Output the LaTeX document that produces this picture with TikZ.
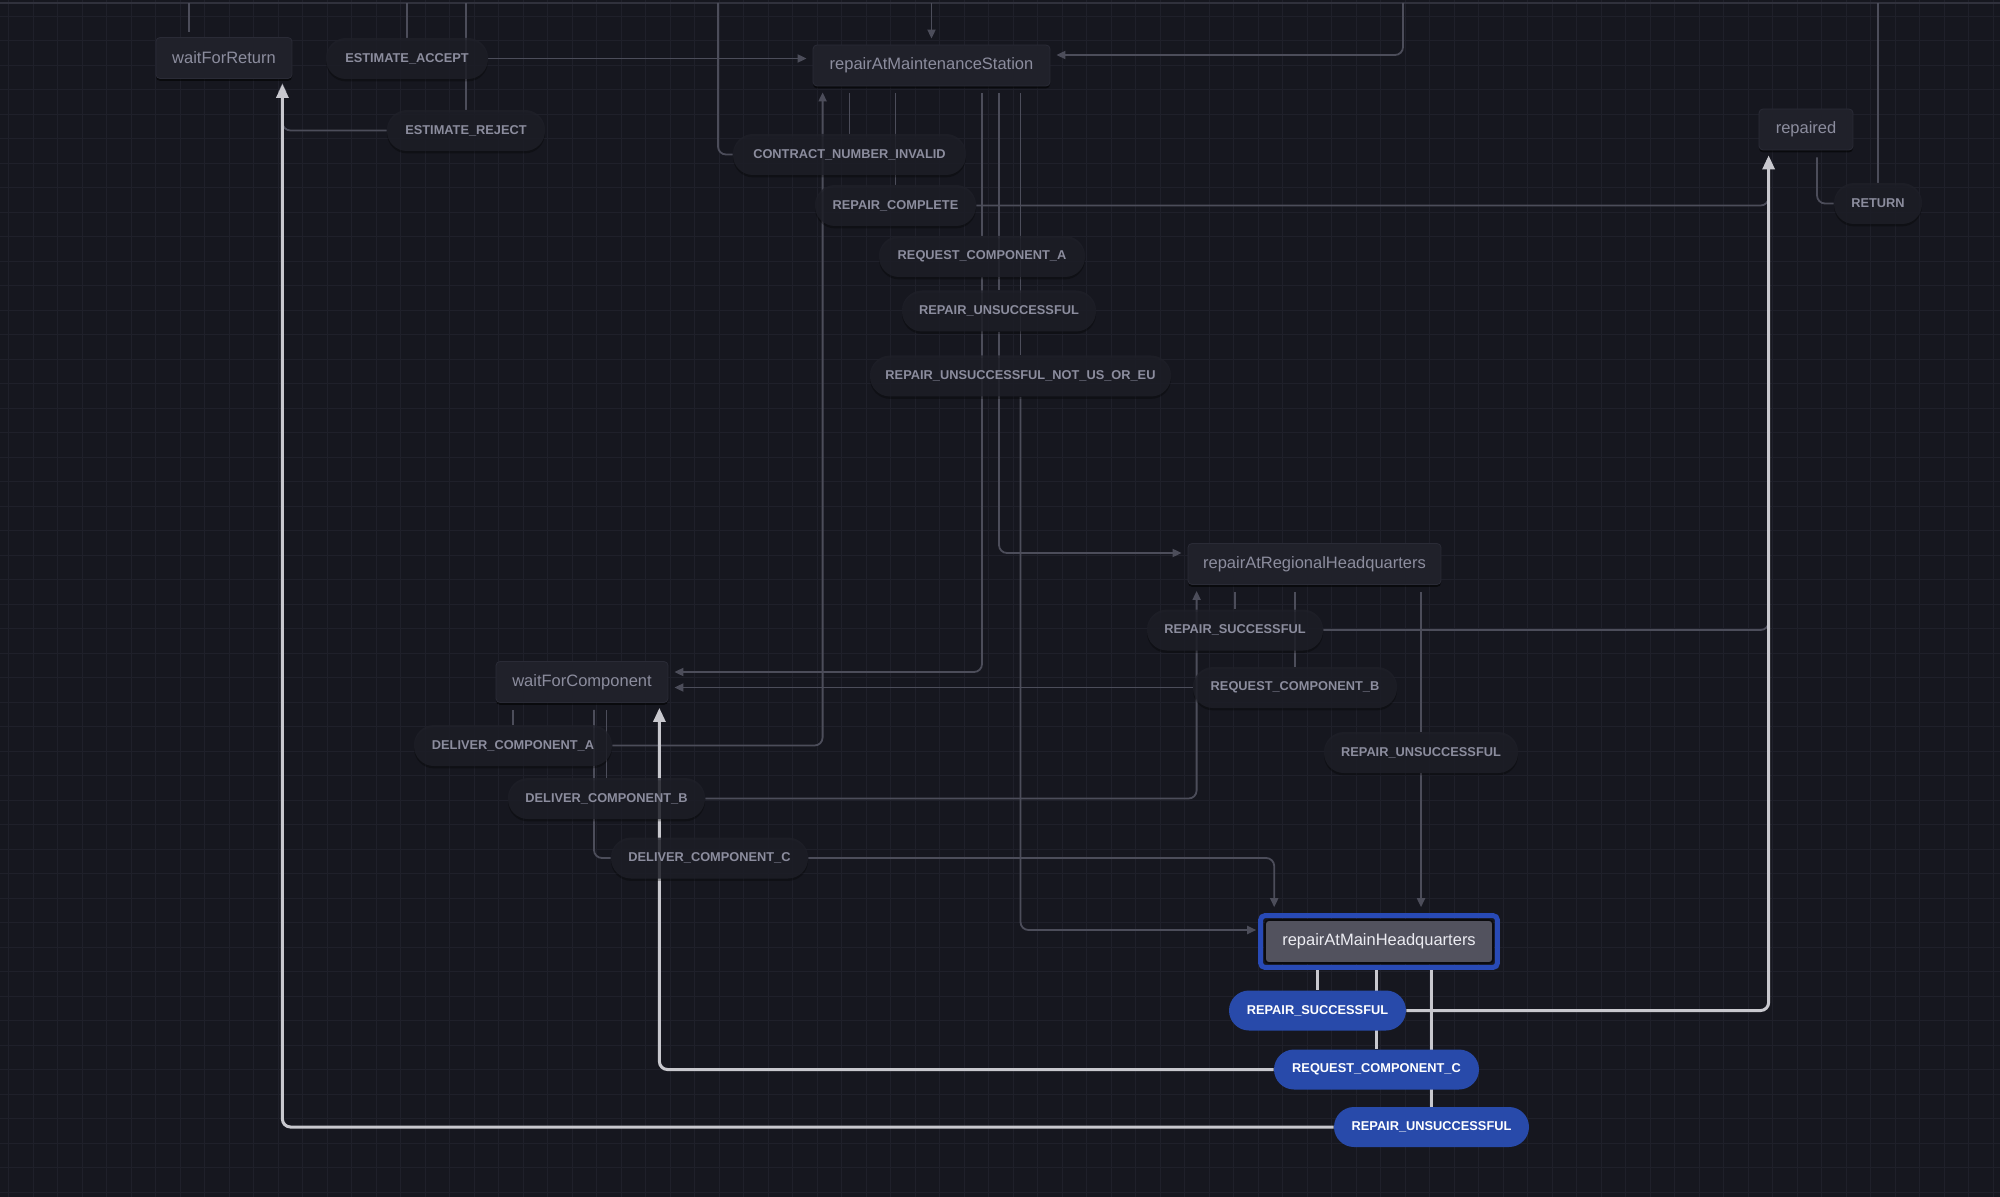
\documentclass[tikz,border=0pt]{standalone}
\usepackage{fontspec}
\setmainfont{Liberation Sans}
\usetikzlibrary{arrows.meta,calc,shadows}
\pgfdeclarelayer{gridlayer}
\pgfdeclarelayer{edgelayer}
\pgfsetlayers{gridlayer,edgelayer,main}
\definecolor{bgc}{RGB}{22,23,31}
\definecolor{gridc}{RGB}{31,32,42}
\definecolor{topc}{RGB}{48,49,60}
\definecolor{statec}{RGB}{32,33,42}
\definecolor{stateb}{RGB}{42,43,54}
\definecolor{txtc}{RGB}{140,141,158}
\definecolor{lblc}{RGB}{31,32,41}
\definecolor{edgec}{RGB}{76,77,90}
\definecolor{hotc}{RGB}{200,200,206}
\definecolor{bluec}{RGB}{40,74,170}
\definecolor{hqb}{RGB}{40,74,182}
\definecolor{hqfill}{RGB}{82,82,94}
\definecolor{hqtxt}{RGB}{236,236,242}
\tikzset{
  state/.style={rectangle, rounded corners=2pt, fill=statec, draw=stateb, line width=0.4pt,
    text=txtc, font=\fontsize{8.25}{10}\selectfont, minimum height=20.5pt, inner sep=0pt,
    drop shadow={shadow xshift=0pt, shadow yshift=-1.2pt, opacity=0.55, fill=black}},
  lbl/.style={rectangle, rounded corners=10pt, minimum height=20.5pt, inner sep=0pt,
    fill=lblc, fill opacity=0.78, text opacity=1, text=txtc,
    font=\bfseries\fontsize{6.4}{7}\selectfont,
    drop shadow={shadow xshift=0pt, shadow yshift=-1.2pt, opacity=0.3, fill=black}},
  hlbl/.style={rectangle, rounded corners=10pt, minimum height=20pt, inner sep=0pt,
    fill=bluec, text=white, font=\bfseries\fontsize{6.4}{7}\selectfont},
  edge/.style={draw=edgec, line width=0.9pt, rounded corners=4pt},
  arr/.style={-{Triangle[length=4.5pt,width=4pt]}, shorten >=3pt},
  hot/.style={draw=hotc, line width=1.5pt, rounded corners=4pt},
  harr/.style={-{Triangle[length=7pt,width=6pt]}, shorten >=2.5pt},
  src/.style={shorten <=3.5pt}
}
\begin{document}
\begin{tikzpicture}[x=0.5pt,y=-0.5pt]
\useasboundingbox (0,0) rectangle (2000,1197);
\begin{pgfonlayer}{gridlayer}
  \fill[bgc] (0,0) rectangle (2000,1197);
  \foreach \i in {0,...,81} {\draw[gridc, line width=0.5pt] ({8.7+24.5*\i},0) -- ({8.7+24.5*\i},1197);}
  \foreach \j in {0,...,48} {\draw[gridc, line width=0.5pt] (0,{16.2+24.5*\j}) -- (2000,{16.2+24.5*\j});}
  \draw[topc, line width=0.8pt] (0,3) -- (2000,3);
\end{pgfonlayer}
\coordinate (top) at (0,3);

% states
\node[state, minimum width=68pt] (wfr) at (224,58) {waitForReturn};
\node[state, minimum width=118.5pt] (rams) at (931.5,65.5) {repairAtMaintenanceStation};
\node[state, minimum width=47pt] (repd) at (1806,129.5) {repaired};
\node[state, minimum width=126.5pt] (rrhq) at (1314.5,564) {repairAtRegionalHeadquarters};
\node[state, minimum width=86pt] (wfc) at (582,682) {waitForComponent};
\node[rectangle, rounded corners=2pt, fill=hqfill, draw=black!50!bgc, line width=0.8pt,
  text=hqtxt, font=\fontsize{8.25}{10}\selectfont, minimum height=21.5pt, minimum width=114pt,
  inner sep=0pt] (rmhq) at (1379,941.5) {repairAtMainHeadquarters};
\draw[hqb, line width=2.5pt, rounded corners=2pt]
  ($(rmhq.south west)+(-3.5,3.5)$) rectangle ($(rmhq.north east)+(3.5,-3.5)$);

% labels
\node[lbl, minimum width=81pt] (lEA) at (407,58.5) {ESTIMATE\_ACCEPT};
\node[lbl, minimum width=79pt] (lER) at (466,130.5) {ESTIMATE\_REJECT};
\node[lbl, minimum width=116.5pt] (lCNI) at (849.5,154.5) {CONTRACT\_NUMBER\_INVALID};
\node[lbl, minimum width=80.5pt] (lRC) at (895.5,205.5) {REPAIR\_COMPLETE};
\node[lbl, minimum width=103pt] (lRCA) at (982,256.5) {REQUEST\_COMPONENT\_A};
\node[lbl, minimum width=97pt] (lRU1) at (999,311) {REPAIR\_UNSUCCESSFUL};
\node[lbl, minimum width=150.5pt] (lRUN) at (1020.5,376) {REPAIR\_UNSUCCESSFUL\_NOT\_US\_OR\_EU};
\node[lbl, minimum width=44pt] (lRET) at (1878,203.5) {RETURN};
\node[lbl, minimum width=88pt] (lRS2) at (1235,630) {REPAIR\_SUCCESSFUL};
\node[lbl, minimum width=102pt] (lRCB) at (1295,687.5) {REQUEST\_COMPONENT\_B};
\node[lbl, minimum width=97pt] (lRU2) at (1421,752.5) {REPAIR\_UNSUCCESSFUL};
\node[lbl, minimum width=99pt] (lDA) at (513,745.5) {DELIVER\_COMPONENT\_A};
\node[lbl, minimum width=98.5pt] (lDB) at (606.5,798.5) {DELIVER\_COMPONENT\_B};
\node[lbl, minimum width=98.5pt] (lDC) at (709.5,858) {DELIVER\_COMPONENT\_C};
\node[hlbl, minimum width=88.5pt] (lRS3) at (1317.5,1010.5) {REPAIR\_SUCCESSFUL};
\node[hlbl, minimum width=102.5pt] (lRCC) at (1376.5,1069.5) {REQUEST\_COMPONENT\_C};
\node[hlbl, minimum width=97.5pt] (lRU3) at (1431.5,1127) {REPAIR\_UNSUCCESSFUL};

% helper coordinates
\coordinate (wfrIn) at ($(wfr.south east)+(-10,0)$);
\coordinate (repIn) at ($(repd.south west)+(10,0)$);
\coordinate (wfcIn) at ($(wfc.south east)+(-9,0)$);
\coordinate (tWFR) at (189,3);
\coordinate (tCNI) at (718,3);
\coordinate (tR) at (1403,3);

\begin{pgfonlayer}{edgelayer}
  % edges entering from above the frame
  \draw[edge] (tWFR) -- ($(wfr.north -| tWFR)+(0,-5)$);
  \draw[edge] (lEA.north |- top) -- (lEA.north);
  \draw[edge] (lER.north |- top) -- (lER.north);
  \draw[edge,arr] (rams.north |- top) -- (rams.north);
  \draw[edge,arr] (tR) |- ($(rams.east)+(0,-10.5)$);
  \draw[edge] (lRET.north) -- (lRET.north |- top);
  % ESTIMATE
  \draw[edge,arr] (lEA.east) -- (lEA.east -| rams.west);
  \draw[edge,arr,shorten >=2pt] (lER.west) -| (wfrIn);
  % from repairAtMaintenanceStation
  \draw[edge,src] (rams.south -| lCNI.north) -- (lCNI.north);
  \draw[edge] (lCNI.west) -| (tCNI);
  \draw[edge,src] (rams.south -| lRC.north) -- (lRC.north);
  \draw[edge,arr] (lRC.east) -| (repIn);
  \draw[edge,src] (rams.south -| lRCA.north) -- (lRCA.north);
  \draw[edge,arr] (lRCA.south) |- ($(wfc.east)+(0,-10)$);
  \draw[edge,src] (rams.south -| lRU1.north) -- (lRU1.north);
  \draw[edge,arr] (lRU1.south) |- ($(rrhq.west)+(0,-11)$);
  \draw[edge,src] (rams.south -| lRUN.north) -- (lRUN.north);
  \draw[edge,arr,shorten >=4pt] (lRUN.south) |- ($(rmhq.west)+(0,-11.5)$);
  % from waitForComponent
  \draw[edge,src] (wfc.south -| lDA.north) -- (lDA.north);
  \draw[edge,src] (wfc.south -| lDB.north) -- (lDB.north);
  \draw[edge,src] ($(wfc.south)+(12,0)$) |- (lDC.west);
  \draw[edge,arr] (lDA.east) -| ($(rams.south west)+(10,0)$);
  \draw[edge,arr] (lDB.east) -| ($(rrhq.south west)+(9,0)$);
  \draw[edge,arr,shorten >=3pt] (lDC.east) -| ($(rmhq.north west)+(10,-6)$);
  % from repairAtRegionalHeadquarters
  \draw[edge,src] (rrhq.south -| lRS2.north) -- (lRS2.north);
  \draw[edge,src] (rrhq.south -| lRCB.north) -- (lRCB.north);
  \draw[edge,src] (rrhq.south -| lRU2.north) -- (lRU2.north);
  \draw[edge,arr] (lRS2.east) -| (repIn);
  \draw[edge,arr] (lRCB.west) -- (lRCB.west -| wfc.east);
  \draw[edge,arr,shorten >=3pt] (lRU2.south) -- ($(lRU2.south |- rmhq.north)+(0,-6)$);
  % repaired
  \draw[edge,src] ($(repd.south)+(11,0)$) |- (lRET.west);
  % from repairAtMainHeadquarters (active)
  \draw[hot] ($(rmhq.south -| lRS3.north)+(0,6)$) -- (lRS3.north);
  \draw[hot] ($(rmhq.south -| lRCC.north)+(0,6)$) -- (lRCC.north);
  \draw[hot] ($(rmhq.south -| lRU3.north)+(0,6)$) -- (lRU3.north);
  \draw[hot,harr] (lRS3.east) -| (repIn);
  \draw[hot,harr] (lRCC.west) -| (wfcIn);
  \draw[hot,harr] (lRU3.west) -| (wfrIn);
\end{pgfonlayer}
\end{tikzpicture}
\end{document}
